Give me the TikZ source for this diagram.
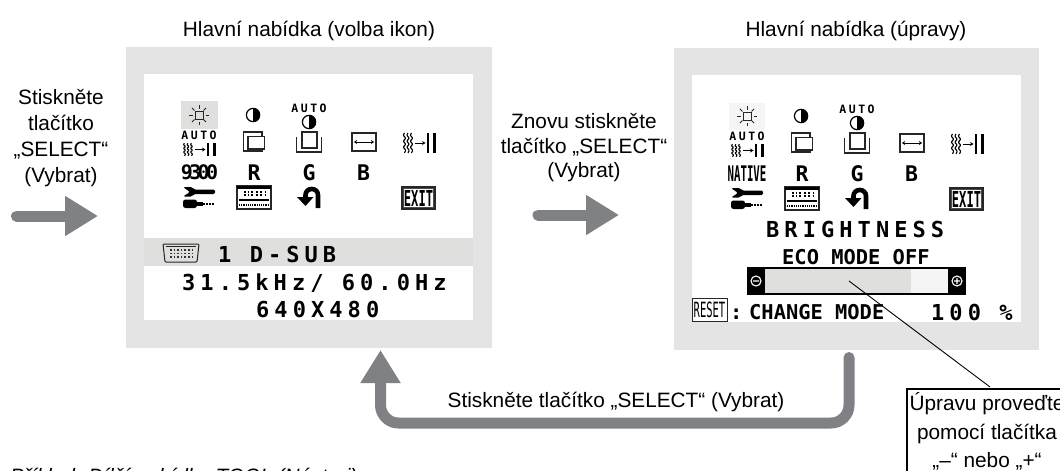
\documentclass[tikz,border=0pt]{standalone}
\usepackage{fontspec}
\setmainfont{Liberation Sans}
\setmonofont{DejaVu Sans Mono}
\newfontfamily\pxwide[LetterSpace=23]{DejaVu Sans Mono}
\newfontfamily\pxauto[LetterSpace=22]{DejaVu Sans Mono}
\newfontfamily\pxtight[LetterSpace=-18]{DejaVu Sans Mono}
\usetikzlibrary{arrows.meta}
\definecolor{frameg}{HTML}{E3E4E3}
\definecolor{bandg}{HTML}{DFDFDE}
\definecolor{arrowg}{HTML}{808184}
\newcommand{\wavy}[3]{% x, y0, y1
  \draw[line width=1.1pt,rounded corners=.8pt] (#1,#2) -- ++(-1.3,2.2) -- ++(2.6,3) -- ++(-2.6,3) -- ++(2.6,3) -- ++(-2.6,3) -- ++(2.6,3) -- (#1,#3);}
\tikzset{
  x=1pt,y=-1pt,
  label/.style={inner sep=0,align=center,font=\fontsize{20.8}{26}\selectfont},
  frame/.style={fill=frameg,anchor=north west,inner sep=0},
  panel/.style={fill=white,anchor=north west,inner sep=0},
  flow/.style={draw=arrowg,line width=11pt,line cap=round,-{Triangle[length=33pt,width=38pt]}},
  wide/.style={anchor=base west,inner sep=0,font=\fontsize{22}{22}\pxwide\bfseries\selectfont},
  plain/.style={anchor=base west,inner sep=0,font=\fontsize{20.4}{21}\ttfamily\bfseries\selectfont},
  big/.style={inner sep=0,font=\fontsize{21.5}{22}\ttfamily\bfseries\selectfont},
  pics/sun/.style={code={
    \draw[line width=1pt,black!85] (-4,-4) rectangle (4,4);
    \foreach \a in {0,45,...,315}{\draw[line width=1pt,black!85] (\a:6.5) -- (\a:10);}
  }},
  pics/contrast/.style={code={
    \draw[line width=1.2pt,fill=white] (0,0) circle[radius=6.6];
    \begin{scope}\clip (0,-8) rectangle (8,8);\fill (0,0) circle[radius=7.2];\end{scope}
  }},
  pics/autocontrast/.style={code={
    \node[inner sep=0,font=\fontsize{11.5}{11.5}\pxauto\bfseries\selectfont] {AUTO};
    \pic at (0,14) {contrast};
  }},
  pics/winone/.style={code={
    \draw[line width=1.2pt,black!85,fill=white] (-10.5,-10) rectangle (8,9);
    \draw[line width=1.2pt,black!85,fill=white] (-6,-5.5) rectangle (10.5,7);
  }},
  pics/wintwo/.style={code={
    \draw[line width=1.2pt,black!85] (-12.5,-5) -- (-12.5,10) -- (12.5,10) -- (12.5,-5);
    \draw[line width=1.2pt,black!85,fill=white] (-7,-10) rectangle (8,6);
  }},
  pics/hsize/.style={code={
    \draw[line width=1.2pt,black!85] (-12,-9) rectangle (12,9);
    \draw[line width=.7pt,{Stealth[length=3pt,width=4pt]}-{Stealth[length=3pt,width=4pt]}] (-10,0) -- (10,0);
  }},
  pics/wavebars/.style={code={
    \wavy{-15}{-10}{10}\wavy{-11.5}{-10}{10}\wavy{-8}{-10}{10}
    \draw[line width=.9pt,-{Stealth[length=3.5pt,width=4pt]}] (-4.5,0) -- (6,0);
    \fill (7.2,-10) rectangle (9.9,10);
    \fill (13.8,-10) rectangle (16.5,10);
  }},
  pics/tools/.style={code={
    \fill[rounded corners=1.5pt] (-16,-10) -- (-7,-10) -- (-5,-7.5) -- (16,-7.5) -- (16,-3) -- (-5,-3) -- (-7,-.5) -- (-16,-.5) -- (-9,-5) -- cycle;
    \fill[rounded corners=2.5pt] (-16,2.5) rectangle (-2,11);
    \fill (-3,5) rectangle (4,8.5);
    \draw[line width=2pt,densely dotted] (4,6.7) -- (16,6.7);
  }},
  pics/menukeys/.style={code={
    \draw[line width=1.1pt,black!85] (-17,-11) rectangle (17,12);
    \fill (-17,-11.5) rectangle (17,-8.5);
    \foreach \p in {-10,-6.5,-3,2,6,10.5}{\fill (\p,-6) rectangle ++(1.8,1.9);\fill (\p,-2.6) rectangle ++(1.8,1.9);}
    \fill (-15,1.5) rectangle (15,3.6);
    \draw[line width=1.2pt,densely dotted] (-15,8) -- (15,8);
  }},
  pics/backarrow/.style={code={
    \draw[line width=4.6pt,rounded corners=6pt] (9,11) -- (9,-8) -- (-3.5,-8) -- (-3.5,1);
    \fill (-12,0) -- (4.5,0) -- (-3.5,9) -- cycle;
  }},
  pics/exitbox/.style={code={
    \draw[line width=1.3pt,black!85] (-16.5,-11) rectangle (16.5,11);
    \draw[line width=.5pt,black!70] (-15,-9.5) rectangle (15,9.5);
    \node[inner sep=0] {\scalebox{.55}[1]{\fontsize{22}{22}\ttfamily\bfseries\selectfont EXIT}};
  }},
  pics/dsub/.style={code={
    \draw[line width=1pt,black!85,rounded corners=1pt] (-18,-9) -- (18,-9) -- (16,9) -- (-16,9) -- cycle;
    \draw[line width=.8pt,black!85] (-15,-6.5) -- (15,-6.5);
    \foreach \r in {-3,.5,4}{\draw[line width=1.6pt,dotted,black!80] (-11,\r) -- (11,\r);}
  }},
  pics/iconset/.style={code={
    \pic at (63,0) {contrast};
    \pic at (119,-7) {autocontrast};
    \pic at (64,27) {winone};
    \pic at (119,27) {wintwo};
    \pic at (174,27) {hsize};
    \pic at (229.5,28) {wavebars};
    \node[inner sep=0,font=\fontsize{11.5}{11.5}\pxauto\bfseries\selectfont] (autolbl) at (9,20.5) {AUTO};
    \pic[yscale=.62] at (9.5,34.5) {wavebars};
    \node[big] at (64,57.5) {R};
    \node[big] at (119,57.5) {G};
    \node[big] at (173.5,57.5) {B};
    \pic at (9,82) {tools};
    \pic at (64,82) {menukeys};
    \pic at (119,82) {backarrow};
    \pic at (228.5,83) {exitbox};
  }}
}
\begin{document}
\begin{tikzpicture}
\useasboundingbox (0,0) rectangle (1060,471);
% screens
\node[frame,minimum width=366,minimum height=301] (screenA) at (126,47) {};
\node[panel,minimum width=329,minimum height=246] (panelA) at (144,74) {};
\node[frame,minimum width=365,minimum height=302] (screenB) at (674,48) {};
\node[panel,minimum width=329,minimum height=247] (panelB) at (692,75) {};
\fill[bandg] (144,238) rectangle (473,266);
\fill[bandg] (181,101) rectangle (218,129);
\fill[black!4] (729,103) rectangle (765,130);
% icons
\pic at (190,115) {iconset};
\pic at (199,115) {sun};
\node[big] (n9300) at (199.5,172.5) {\fontsize{20}{20}\pxtight\bfseries\selectfont 9300};
\pic at (738,116) {iconset};
\pic at (747,116) {sun};
\node[big] (native) at (747,173.5) {\scalebox{.5}[1]{NATIVE}};
% left screen readouts
\pic at (181,253) {dsub};
\node[wide] (dsubtxt) at (218,262) {1 D-SUB};
\node[wide] (freq) at (182,290) {31.5kHz/ 60.0Hz};
\node[wide] (res) at (256,317) {640X480};
% right screen readouts
\node[wide] (bright) at (766,237) {BRIGHTNESS};
\node[plain] (eco) at (782,264) {ECO MODE OFF};
\fill[black] (747,267) rectangle (966,295);
\fill[bandg] (765,269) rectangle (911,293);
\fill[black!4] (911,269) rectangle (948,293);
\draw[white,line width=1.1pt] (756,281) circle[radius=5] (753,281) -- (759,281);
\draw[white,line width=1.1pt] (957,281) circle[radius=5] (954,281) -- (960,281) (957,278) -- (957,284);
\node[draw,line width=1pt,black!85,minimum width=35,minimum height=23,inner sep=0] (resetbox) at (709.5,309.5) {\scalebox{.5}[1]{\fontsize{21}{21}\ttfamily\selectfont\color{black}RESET}};
\node[plain] (colon) at (730,319) {:};
\node[plain] (change) at (749,319) {CHANGE MODE};
\node[wide] (pct) at (931,320) {100 \%};
% callout
\node[draw,line width=2pt,fill=white,anchor=north west,inner sep=0,minimum width=162,minimum height=110] (callout) at (906,388) {};
\node[label,font=\fontsize{20.8}{28.5}\selectfont] (calltext) at (987,431.5) {Úpravu proveďte\\pomocí tlačítka\\„–“ nebo „+“};
\coordinate (slidept) at (849,281);
\coordinate (calltop) at (990,387);
\draw[line width=.9pt] (slidept) -- (calltop);
% flow arrows
\coordinate (a1s) at (16.5,216); \coordinate (a1e) at (98,216);
\coordinate (a2s) at (538,215); \coordinate (a2e) at (619,215);
\coordinate (a3s) at (849,357.5); \coordinate (a3m) at (849,423); \coordinate (a3n) at (380.5,423); \coordinate (a3e) at (380.5,350);
\draw[flow] (a1s) -- (a1e);
\draw[flow] (a2s) -- (a2e);
\draw[flow,rounded corners=18pt] (a3s) -- (a3m) -- (a3n) -- (a3e);
% labels
\node[label] (title1) at (309,31) {Hlavní nabídka (volba ikon)};
\node[label] (title2) at (856,31) {Hlavní nabídka (úpravy)};
\node[label] (step1) at (61,138.5) {Stiskněte\\tlačítko\\„SELECT“\\(Vybrat)};
\node[label,font=\fontsize{20.8}{24.5}\selectfont] (step2) at (584,148) {Znovu stiskněte\\tlačítko „SELECT“\\(Vybrat)};
\node[label] (step3) at (616,401.5) {Stiskněte tlačítko „SELECT“ (Vybrat)};
\node[anchor=base west,inner sep=0,font=\fontsize{20.8}{24}\itshape\selectfont] (sample) at (10,483) {Příklad: Dílčí nabídka TOOL (Nástroj)};
\end{tikzpicture}
\end{document}
